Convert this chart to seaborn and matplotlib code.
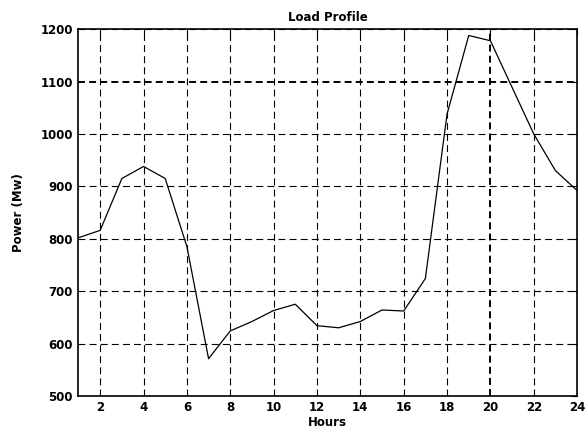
#!/usr/bin/env python3

import pandas as pd
import seaborn as sns
import matplotlib.pyplot as plt

# Hourly load profile
hours = list(range(1, 25))
power = [802, 816, 915, 938, 915, 785, 571, 624, 642, 663, 675, 634,
         630, 642, 664, 662, 724, 1038, 1188, 1178, 1089, 1000, 930, 892]

x_ticks = list(range(2, 25, 2))
y_ticks = list(range(500, 1201, 100))

df = pd.DataFrame({"Hours": hours, "Power": power})

sns.set_style("white")
plt.rcParams["font.family"] = ["DejaVu Sans"]
plt.rcParams["font.weight"] = "bold"
plt.rcParams["text.color"] = "black"
plt.rcParams["axes.labelcolor"] = "black"
plt.rcParams["lines.scale_dashes"] = False

fig = plt.figure(figsize=(5.88, 4.36), dpi=100)
ax = fig.add_axes([0.1335, 0.092, 0.848, 0.841])

sns.lineplot(data=df, x="Hours", y="Power", color="black", linewidth=0.9, ax=ax)

ax.set_xlim(1, 24)
ax.set_ylim(500, 1200)
ax.set_xticks(x_ticks)
ax.set_yticks(y_ticks)
ax.tick_params(direction="in", length=4, width=0.8, top=True, right=True,
               labelsize=8.5, colors="black", pad=4)
for lab in ax.get_xticklabels() + ax.get_yticklabels():
    lab.set_fontweight("heavy")

ax.grid(True, color="black", linestyle=(0, (5, 3)), linewidth=0.8)
# two grid lines look heavier in the original
ax.get_ygridlines()[y_ticks.index(1100)].set_linewidth(1.4)
ax.get_xgridlines()[x_ticks.index(20)].set_linewidth(1.4)

for sp in ax.spines.values():
    sp.set_color("black")
    sp.set_linewidth(1.2)

ax.set_title("Load Profile", fontsize=8.5, fontweight="heavy", color="black", pad=6)
ax.set_xlabel("Hours", fontsize=8.5, fontweight="heavy", color="black", labelpad=1)
ax.set_ylabel("Power (Mw)", fontsize=8.5, fontweight="heavy", color="black", labelpad=11)

fig.savefig("out.png", dpi=100)
